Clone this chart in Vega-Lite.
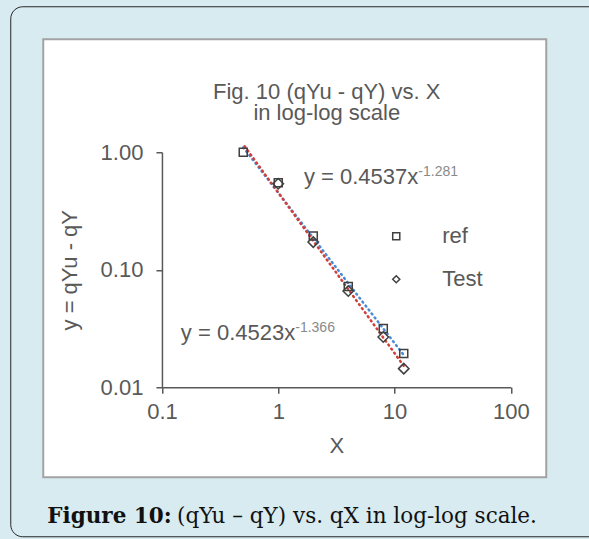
{
  "$schema": "https://vega.github.io/schema/vega-lite/v6.json",
  "background": "#d7ebf0",
  "padding": {"left": 9.25, "top": 5.25, "right": 0, "bottom": 2.5},
  "config": {"font": "Liberation Sans", "axis": {"grid": false}},
  "title": {
    "text": "Figure 10:",
    "subtitle": "\u200b\u00a0\u00a0\u00a0\u00a0\u00a0\u00a0\u00a0\u00a0\u00a0\u00a0\u00a0\u00a0\u00a0\u00a0\u00a0\u00a0\u00a0\u00a0\u00a0(qYu – qY) vs. qX in log-log scale.",
    "orient": "bottom",
    "anchor": "start",
    "frame": "group",
    "offset": -30.5,
    "dx": 4,
    "font": "DejaVu Serif",
    "fontSize": 21.5,
    "fontWeight": "bold",
    "color": "#111111",
    "subtitleFont": "DejaVu Serif",
    "subtitleFontSize": 21.5,
    "subtitleFontWeight": "normal",
    "subtitleColor": "#111111",
    "subtitlePadding": -21.5
  },
  "datasets": {
    "points": [
      {"series": "ref", "x": 0.5, "y": 1.0},
      {"series": "ref", "x": 1, "y": 0.55},
      {"series": "ref", "x": 2, "y": 0.194},
      {"series": "ref", "x": 4, "y": 0.072},
      {"series": "ref", "x": 8, "y": 0.0316},
      {"series": "ref", "x": 12, "y": 0.0194},
      {"series": "Test", "x": 1, "y": 0.54},
      {"series": "Test", "x": 2, "y": 0.172},
      {"series": "Test", "x": 4, "y": 0.066},
      {"series": "Test", "x": 8, "y": 0.0268},
      {"series": "Test", "x": 12, "y": 0.0144}
    ],
    "fits": [
      {"fit": "ref", "x": 0.5, "y": 1.10},
      {"fit": "ref", "x": 12, "y": 0.0188},
      {"fit": "Test", "x": 0.5, "y": 1.17},
      {"fit": "Test", "x": 12, "y": 0.0152}
    ],
    "eqs": [
      {"eq": "y = 0.4537x", "exp": "-1.281", "x": 16.0, "y": 0.613},
      {"eq": "y = 0.4523x", "exp": "-1.366", "x": 1.40, "y": 0.0288}
    ]
  },
  "vconcat": [
    {
      "width": 503,
      "height": 438,
      "view": {"fill": "white", "stroke": "#a3a3a3", "strokeWidth": 2},
      "title": {
        "text": ["Fig. 10 (qYu - qY) vs. X", "in log-log scale"],
        "orient": "top",
        "frame": "group",
        "anchor": "middle",
        "offset": -85.75,
        "dx": 32,
        "font": "Liberation Sans",
        "fontSize": 22,
        "fontWeight": "normal",
        "color": "#595959",
        "lineHeight": 21
      },
      "encoding": {
        "x": {
          "field": "x",
          "type": "quantitative",
          "scale": {"type": "log", "domain": [0.1, 100], "range": [118.7, 467.6], "nice": false},
          "axis": {
            "values": [0.1, 1, 10, 100],
            "format": "~g",
            "offset": -90,
            "title": "X",
            "domainColor": "#595959",
            "domainWidth": 1.5,
            "tickColor": "#595959",
            "tickWidth": 1.5,
            "tickSize": 6,
            "labelFont": "Liberation Sans",
            "labelFontSize": 22,
            "labelColor": "#595959",
            "labelPadding": 8,
            "labelFlush": false,
            "titleFont": "Liberation Sans",
            "titleFontSize": 22,
            "titleFontWeight": "normal",
            "titleColor": "#595959",
            "titlePadding": 13
          }
        },
        "y": {
          "field": "y",
          "type": "quantitative",
          "scale": {"type": "log", "domain": [0.01, 1], "range": [348, 113], "nice": false},
          "axis": {
            "values": [0.01, 0.1, 1],
            "format": ".2f",
            "offset": -118.7,
            "title": "y = qYu - qY",
            "domainColor": "#595959",
            "domainWidth": 1.5,
            "tickColor": "#595959",
            "tickWidth": 1.5,
            "tickSize": 6,
            "labelFont": "Liberation Sans",
            "labelFontSize": 22,
            "labelColor": "#595959",
            "labelPadding": 13,
            "labelFlush": false,
            "titleFont": "Liberation Sans",
            "titleFontSize": 22,
            "titleFontWeight": "normal",
            "titleColor": "#595959",
            "titlePadding": 19
          }
        }
      },
      "layer": [
        {
          "data": {"name": "fits"},
          "transform": [{"filter": "datum.fit === 'ref'"}],
          "mark": {"type": "line", "stroke": "#4a8ad6", "strokeWidth": 2.5, "strokeDash": [1, 4], "strokeCap": "round"},
          "encoding": {}
        },
        {
          "data": {"name": "fits"},
          "transform": [{"filter": "datum.fit === 'Test'"}],
          "mark": {"type": "line", "stroke": "#d0403a", "strokeWidth": 2.5, "strokeDash": [1, 4], "strokeDashOffset": 2.5, "strokeCap": "round"},
          "encoding": {}
        },
        {
          "data": {"name": "points"},
          "transform": [{"filter": "datum.series === 'ref'"}],
          "mark": {"type": "point", "filled": false, "stroke": "#404040", "strokeWidth": 1.5, "opacity": 1, "size": 64},
          "encoding": {
            "shape": {
              "field": "series",
              "type": "nominal",
              "scale": {"domain": ["ref", "Test"], "range": ["square", "diamond"]},
              "legend": {
                "orient": "none",
                "legendX": 342,
                "legendY": 186,
                "direction": "vertical",
                "title": null,
                "padding": 0,
                "labelFont": "Liberation Sans",
                "labelFontSize": 22,
                "labelColor": "#595959",
                "labelOffset": 35,
                "symbolSize": 50,
                "symbolStrokeColor": "#404040",
                "symbolStrokeWidth": 1.5,
                "symbolFillColor": "transparent",
                "rowPadding": 21
              }
            }
          }
        },
        {
          "data": {"name": "points"},
          "transform": [{"filter": "datum.series === 'Test'"}],
          "mark": {"type": "point", "filled": false, "stroke": "#404040", "strokeWidth": 1.5, "opacity": 1, "size": 110},
          "encoding": {
            "shape": {
              "field": "series",
              "type": "nominal",
              "scale": {"domain": ["ref", "Test"], "range": ["square", "diamond"]}
            }
          }
        },
        {
          "data": {"name": "eqs"},
          "mark": {"type": "text", "align": "right", "baseline": "middle", "font": "Liberation Sans", "fontSize": 22, "color": "#595959"},
          "encoding": {"text": {"field": "eq"}}
        },
        {
          "data": {"name": "eqs"},
          "mark": {"type": "text", "align": "left", "baseline": "middle", "dy": -5, "font": "Liberation Sans", "fontSize": 14, "color": "#8a8a8a"},
          "encoding": {"text": {"field": "exp"}}
        },
        {
          "data": {"name": "eqs"},
          "mark": {"type": "text", "text": "", "opacity": 0},
          "encoding": {
            "fill": {
              "field": "y",
              "type": "quantitative",
              "scale": {"range": ["#ffffff", "#ffffff"]},
              "legend": {
                "orient": "none",
                "legendX": -33,
                "legendY": -33,
                "direction": "vertical",
                "title": null,
                "padding": 20,
                "gradientLength": 490,
                "gradientThickness": 560,
                "gradientOpacity": 0,
                "gradientStrokeWidth": 0,
                "labelExpr": "''",
                "labelFontSize": 1,
                "labelOffset": 0,
                "tickCount": 2,
                "strokeColor": "#262626",
                "cornerRadius": 12
              }
            }
          }
        }
      ]
    }
  ]
}
